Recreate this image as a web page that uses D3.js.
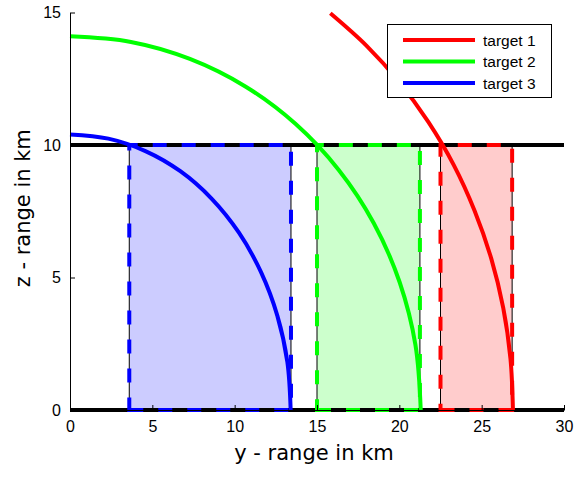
<!DOCTYPE html>
<html>
<head>
<meta charset="utf-8">
<script src="https://cdn.jsdelivr.net/npm/d3@7"></script>
<style>
  html, body { margin: 0; padding: 0; background: #fff; }
  svg { display: block; }
  .tick text { font-family: "Liberation Sans", Arial, sans-serif; font-size: 16px; fill: #000; }
  .axis-title { font-family: "DejaVu Sans", sans-serif; font-size: 21px; fill: #000; }
  .legend text { font-family: "Liberation Sans", Arial, sans-serif; font-size: 15.5px; fill: #000; }
</style>
</head>
<body>
<svg id="chart" width="574" height="477"></svg>
<script>
// Axis ticks (km)
const xTicks = [0, 5, 10, 15, 20, 25, 30];
const yTicks = [0, 5, 10, 15];

// Target names and colours
const targets = ["target 1", "target 2", "target 3"];
const lineColors = ["#ff0000", "#00ff00", "#0000ff"];
const fillColors = ["#ffcccc", "#ccffcc", "#ccccff"];

// Coverage boundaries: [y, z] points in km
const target1Curve = [[15.81, 14.97], [18.00, 13.75], [19.99, 12.38], [21.76, 10.87], [23.30, 9.25],
                      [24.57, 7.52], [25.58, 5.72], [26.31, 3.85], [26.75, 1.93], [26.90, 0]];
const target2Curve = [[0, 14.10], [3.70, 13.89], [7.28, 13.25], [10.65, 12.21], [13.69, 10.80],
                      [16.32, 9.06], [18.45, 7.05], [20.02, 4.82], [20.98, 2.45], [21.30, 0]];
const target3Curve = [[0, 10.40], [2.33, 10.24], [4.58, 9.77], [6.70, 9.01], [8.61, 7.97],
                      [10.26, 6.69], [11.60, 5.20], [12.59, 3.56], [13.20, 1.81], [13.40, 0]];

// Horizontal band for each target (y from / to, km) between the two altitude limits
const bandStart = [22.5, 15.0, 3.6];
const bandEnd   = [26.85, 21.25, 13.42];
const altitudeLimits = [0, 10];

const curves = [target1Curve, target2Curve, target3Curve];

const svg = d3.select("#chart");

const x = d3.scaleLinear().domain([0, 30]).range([70, 564]);
const y = d3.scaleLinear().domain([0, 15]).range([410, 12.5]);

const plot = svg.append("g");

// Shaded bands
const bandPath = (i) => {
  const x0 = bandStart[i], x1 = bandEnd[i];
  const z0 = altitudeLimits[0], z1 = altitudeLimits[1];
  return `M${x(x0)},${y(z0)}L${x(x1)},${y(z0)}L${x(x1)},${y(z1)}L${x(x0)},${y(z1)}Z`;
};

targets.forEach((t, i) => {
  plot.append("path")
    .attr("d", bandPath(i))
    .attr("fill", fillColors[i])
    .attr("stroke", "#000")
    .attr("stroke-width", 1);
});

// Altitude limit lines
plot.selectAll("line.limit")
  .data(altitudeLimits)
  .join("line")
  .attr("class", "limit")
  .attr("x1", x(0)).attr("x2", x(30))
  .attr("y1", d => y(d)).attr("y2", d => y(d))
  .attr("stroke", "#000")
  .attr("stroke-width", 4);

// Dashed band outlines
targets.forEach((t, i) => {
  plot.append("path")
    .attr("d", bandPath(i))
    .attr("fill", "none")
    .attr("stroke", lineColors[i])
    .attr("stroke-width", 4)
    .attr("stroke-dasharray", "14 15");
});

// Boundary curves
const line = d3.line()
  .x(d => x(d[0]))
  .y(d => y(d[1]))
  .curve(d3.curveCatmullRom.alpha(0.5));

curves.forEach((c, i) => {
  plot.append("path")
    .attr("d", line(c))
    .attr("fill", "none")
    .attr("stroke", lineColors[i])
    .attr("stroke-width", 4);
});

// Axes
const xAxis = d3.axisBottom(x).tickValues(xTicks).tickSizeInner(-5).tickSizeOuter(0).tickPadding(11);
const yAxis = d3.axisLeft(y).tickValues(yTicks).tickSizeInner(-5).tickSizeOuter(0).tickPadding(9);

const gx = svg.append("g").attr("transform", `translate(0,${y(0)})`).call(xAxis);
const gy = svg.append("g").attr("transform", `translate(${x(0)},0)`).call(yAxis);
[gx, gy].forEach(g => {
  g.select(".domain").attr("stroke", "#000").attr("stroke-width", 1);
  g.selectAll(".tick line").attr("stroke", "#000");
});

// Axis titles
svg.append("text")
  .attr("class", "axis-title")
  .attr("x", (x(0) + x(30)) / 2 - 3)
  .attr("y", 460)
  .attr("text-anchor", "middle")
  .text("y - range in km");

svg.append("text")
  .attr("class", "axis-title")
  .attr("transform", `translate(30,${(y(0) + y(15)) / 2 - 3}) rotate(-90)`)
  .attr("text-anchor", "middle")
  .text("z - range in km");

// Legend
const legend = svg.append("g").attr("class", "legend");
legend.append("rect")
  .attr("x", 387.5).attr("y", 24.5)
  .attr("width", 164).attr("height", 73)
  .attr("fill", "#fff")
  .attr("stroke", "#000")
  .attr("stroke-width", 1);

targets.forEach((t, i) => {
  const ly = 40 + i * 21.5;
  legend.append("line")
    .attr("x1", 403).attr("x2", 475)
    .attr("y1", ly).attr("y2", ly)
    .attr("stroke", lineColors[i])
    .attr("stroke-width", 4);
  legend.append("text")
    .attr("x", 483).attr("y", ly + 5.5)
    .text(t);
});
</script>
</body>
</html>
